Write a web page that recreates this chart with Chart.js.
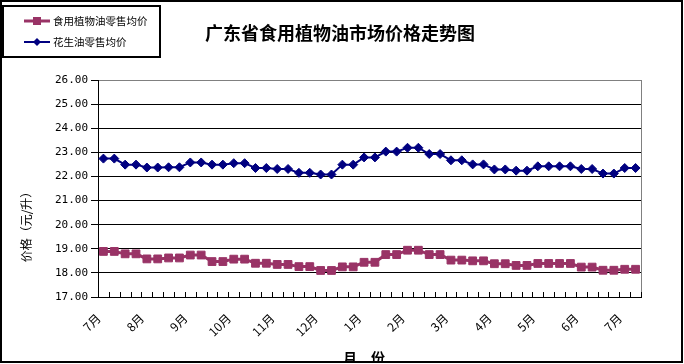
<!DOCTYPE html>
<html>
<head>
<meta charset="utf-8">
<script src="https://cdn.jsdelivr.net/npm/chart.js@4.4.1/dist/chart.umd.min.js"></script>
<style>
  html, body { margin: 0; padding: 0; background: #fff; }
  #wrap { width: 684px; height: 364px; }
</style>
</head>
<body>
<div id="wrap"><canvas id="oilChart" width="684" height="364"></canvas></div>
<script>
// 广东省食用植物油市场价格走势图

const monthLabels = ["7月", "8月", "9月", "10月", "11月", "12月", "1月", "2月", "3月", "4月", "5月", "6月", "7月"];

// 食用植物油零售均价 (元/升)
const edibleOil = [
    18.89, 18.89, 18.79, 18.79, 18.58, 18.58, 18.62, 18.62, 18.74, 18.74,
    18.47, 18.47, 18.57, 18.57, 18.40, 18.40, 18.35, 18.35, 18.26, 18.26,
    18.10, 18.10, 18.25, 18.25, 18.44, 18.44, 18.76, 18.76, 18.94, 18.94,
    18.76, 18.76, 18.53, 18.53, 18.50, 18.50, 18.38, 18.38, 18.31, 18.31,
    18.39, 18.39, 18.39, 18.39, 18.24, 18.24, 18.11, 18.11, 18.15, 18.15,
];

// 花生油零售均价 (元/升)
const peanutOil = [
    22.74, 22.74, 22.49, 22.49, 22.37, 22.37, 22.38, 22.38, 22.58, 22.58,
    22.49, 22.49, 22.55, 22.55, 22.35, 22.35, 22.31, 22.31, 22.15, 22.15,
    22.08, 22.08, 22.49, 22.49, 22.79, 22.79, 23.03, 23.03, 23.19, 23.19,
    22.93, 22.93, 22.67, 22.67, 22.50, 22.50, 22.29, 22.29, 22.24, 22.24,
    22.42, 22.42, 22.42, 22.42, 22.31, 22.31, 22.12, 22.12, 22.35, 22.35,
];

const yMin = 17;
const yMax = 26;

// 每月4期, 每4期标一个月份
const categories = edibleOil.map((v, i) => (i % 4 === 0 ? monthLabels[i / 4] : ""));

const RED = "#993366";
const NAVY = "#000080";
const CJK = "'Noto Sans CJK SC', sans-serif";

// 标题、图例、边框、x轴内刻度
const decorations = {
    id: "decorations",
    beforeDatasetsDraw(chart) {
        const { ctx, chartArea: a, scales } = chart;
        const x = scales.x;
        ctx.save();
        // 绘图区右边框(灰)
        ctx.strokeStyle = "#808080";
        ctx.lineWidth = 1;
        ctx.beginPath();
        ctx.moveTo(a.right + 0.5, a.top);
        ctx.lineTo(a.right + 0.5, a.bottom);
        ctx.stroke();
        // x轴向内刻度
        ctx.strokeStyle = "#000";
        ctx.beginPath();
        for (let i = 0; i <= categories.length; i++) {
            const px = Math.round(x.getPixelForValue(i - 0.5)) + 0.5;
            ctx.moveTo(px, a.bottom);
            ctx.lineTo(px, a.bottom - 5);
        }
        ctx.stroke();
        ctx.restore();
    },
    afterDraw(chart) {
        const ctx = chart.ctx;
        ctx.save();
        ctx.fillStyle = "#000";

        // 标题
        ctx.font = "bold 18px " + CJK;
        ctx.textAlign = "center";
        ctx.textBaseline = "middle";
        ctx.fillText("广东省食用植物油市场价格走势图", 340, 33);

        // y轴标题
        ctx.save();
        ctx.translate(26, 224);
        ctx.rotate(-Math.PI / 2);
        ctx.font = "12px " + CJK;
        ctx.fillText("价格（元/升）", 0, 0);
        ctx.restore();

        // x轴标题 (被边框截掉一部分)
        ctx.save();
        ctx.beginPath();
        ctx.rect(0, 0, 684, 361);
        ctx.clip();
        ctx.font = "bold 14px " + CJK;
        ctx.fillText("月　份", 364, 358);
        ctx.restore();

        // 图例
        ctx.strokeStyle = "#000";
        ctx.lineWidth = 2;
        ctx.strokeRect(3, 6, 157, 51);

        ctx.lineWidth = 3;
        ctx.strokeStyle = RED;
        ctx.beginPath();
        ctx.moveTo(24, 21);
        ctx.lineTo(50, 21);
        ctx.stroke();
        ctx.fillStyle = RED;
        ctx.fillRect(33, 17, 8, 8);

        ctx.lineWidth = 2;
        ctx.strokeStyle = NAVY;
        ctx.beginPath();
        ctx.moveTo(24, 42);
        ctx.lineTo(50, 42);
        ctx.stroke();
        ctx.fillStyle = NAVY;
        ctx.beginPath();
        ctx.moveTo(37, 38);
        ctx.lineTo(41, 42);
        ctx.lineTo(37, 46);
        ctx.lineTo(33, 42);
        ctx.closePath();
        ctx.fill();

        ctx.fillStyle = "#000";
        ctx.font = "10.5px " + CJK;
        ctx.textAlign = "left";
        ctx.fillText("食用植物油零售均价", 53, 21);
        ctx.fillText("花生油零售均价", 53, 42);

        // 外框
        ctx.lineWidth = 2;
        ctx.strokeStyle = "#000";
        ctx.strokeRect(1, 1, 681, 361);
        ctx.restore();
    },
};

new Chart(document.getElementById("oilChart"), {
    type: "line",
    data: {
        labels: categories,
        datasets: [
            {
                label: "食用植物油零售均价",
                data: edibleOil,
                borderColor: RED,
                backgroundColor: RED,
                borderWidth: 3,
                pointStyle: "rect",
                pointRadius: 5.5,
                pointBackgroundColor: RED,
                pointBorderColor: RED,
                pointBorderWidth: 1,
                tension: 0,
            },
            {
                label: "花生油零售均价",
                data: peanutOil,
                borderColor: NAVY,
                backgroundColor: NAVY,
                borderWidth: 2,
                pointStyle: "rectRot",
                pointRadius: 4.5,
                pointBackgroundColor: NAVY,
                pointBorderColor: NAVY,
                pointBorderWidth: 1,
                tension: 0,
            },
        ],
    },
    options: {
        responsive: false,
        animation: false,
        events: [],
        layout: {
            padding: { top: 80, right: 43, left: 0, bottom: 0 },
        },
        plugins: {
            legend: { display: false },
            title: { display: false },
            tooltip: { enabled: false },
        },
        scales: {
            x: {
                offset: true,
                grid: { display: false },
                border: { color: "#000", width: 1 },
                ticks: {
                    autoSkip: false,
                    maxRotation: 45,
                    minRotation: 45,
                    padding: 6,
                    labelOffset: -5,
                    color: "#000",
                    font: { family: CJK, size: 12 },
                },
                afterFit(scale) {
                    scale.height = 67;
                },
            },
            y: {
                min: yMin,
                max: yMax,
                ticks: {
                    stepSize: 1,
                    padding: 3,
                    color: "#000",
                    font: { family: "'DejaVu Sans Mono', monospace", size: 11 },
                    callback: (v) => v.toFixed(2),
                },
                grid: {
                    color: (c) => (c.tick && c.tick.value === yMax ? "#808080" : "#000"),
                    tickColor: "#000",
                    tickLength: 7,
                },
                border: { color: "#000", width: 1 },
                afterFit(scale) {
                    scale.width = 98;
                },
            },
        },
    },
    plugins: [decorations],
});
</script>
</body>
</html>
